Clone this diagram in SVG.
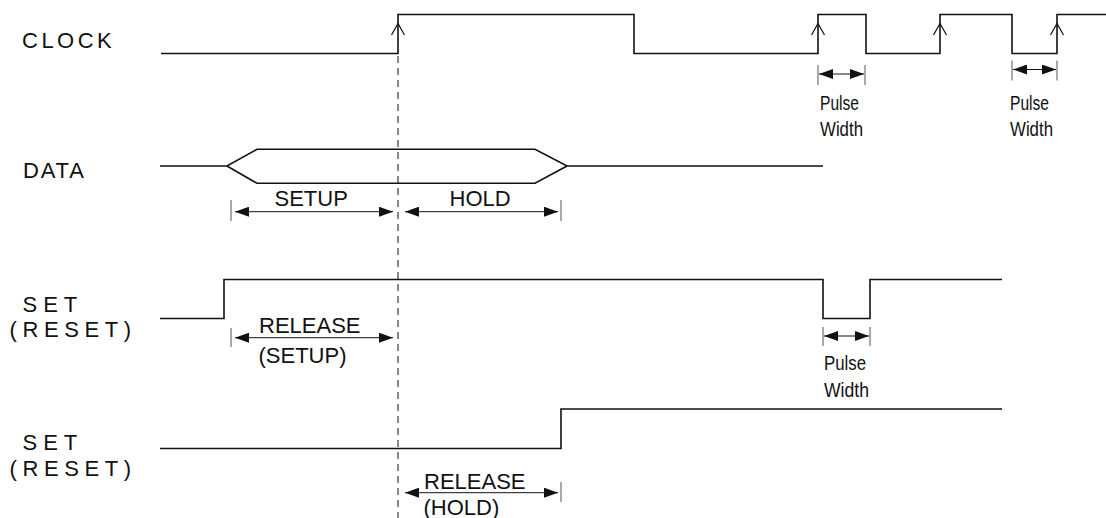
<svg xmlns="http://www.w3.org/2000/svg" width="1106" height="518" viewBox="0 0 1106 518">
<style>
  .lbl { font-family: "Liberation Sans", Arial, sans-serif; font-size: 22px; fill: #111; }
  .sig { fill: none; stroke: #111; stroke-width: 1.6; }
  .edge { fill: none; stroke: #111; stroke-width: 1.2; }
  .tick { stroke: #555; stroke-width: 1; }
  .dim { stroke: #111; stroke-width: 1; marker-start: url(#ah); marker-end: url(#ah); }
  .pw { font-family: "Liberation Sans", Arial, sans-serif; font-size: 21px; fill: #111; }
  .dash { stroke: #111; stroke-width: 1; stroke-dasharray: 7 5; fill: none; }
</style>
<defs>
  <marker id="ah" markerUnits="userSpaceOnUse" markerWidth="14" markerHeight="10" refX="14" refY="5" orient="auto-start-reverse">
    <path d="M0,0 L14,5 L0,10 z" fill="#111"/>
  </marker>
</defs>
<rect width="1106" height="518" fill="#fff"/>

<g id="clock">
  <text class="lbl" x="22" y="47.5" letter-spacing="3.5">CLOCK</text>
  <path class="sig" d="M161,53.5 H398 V14.5 H634 V53.5 H818 V14.5 H866 V53.5 H940 V14.5 H1012 V53.5 H1057 V14.5 H1106"/>
  <path class="edge" d="M391.5,35 L398,23.5 L404.5,35 M811.5,35 L818,23.5 L824.5,35 M933.5,35 L940,23.5 L946.5,35 M1050.5,35 L1057,23.5 L1063.5,35"/>
</g>

<g id="data">
  <text class="lbl" x="23" y="178.3" letter-spacing="1.8">DATA</text>
  <path class="sig" d="M160,166 H227 L257,149.3 H535 L567,166 H823 M227,166 L257,183.3 H535 L567,166"/>
</g>

<g id="set1">
  <text class="lbl" x="22.5" y="311.7" letter-spacing="6">SET</text>
  <text class="lbl" x="9.5" y="337.3" letter-spacing="5.6">(RESET)</text>
  <path class="sig" d="M160,318.5 H224 V279.5 H823 V318.5 H870 V279.5 H1002"/>
</g>

<g id="set2">
  <text class="lbl" x="22.5" y="449.5" letter-spacing="6">SET</text>
  <text class="lbl" x="9.5" y="475.5" letter-spacing="5.6">(RESET)</text>
  <path class="sig" d="M160,448.5 H561 V409 H1002"/>
</g>

<g id="clock-edge-ref">
  <path class="dash" d="M398,56 V518"/>
</g>

<g id="connectors">
  <!-- SETUP -->
  <line class="tick" x1="231" y1="200" x2="231" y2="221"/>
  <line class="dim" x1="235" y1="211.7" x2="393" y2="211.7"/>
  <text class="lbl" x="274.5" y="206">SETUP</text>
  <!-- HOLD -->
  <line class="tick" x1="561" y1="200" x2="561" y2="221"/>
  <line class="dim" x1="405" y1="211.7" x2="558" y2="211.7"/>
  <text class="lbl" x="449.5" y="206">HOLD</text>
  <!-- Pulse width 1 -->
  <line class="tick" x1="818" y1="65" x2="818" y2="85"/>
  <line class="tick" x1="865" y1="65" x2="865" y2="85"/>
  <line class="dim" x1="819" y1="74" x2="864" y2="74"/>
  <text class="pw" x="820" y="110" textLength="39" lengthAdjust="spacingAndGlyphs">Pulse</text>
  <text class="pw" x="820" y="136" textLength="43" lengthAdjust="spacingAndGlyphs">Width</text>
  <!-- Pulse width 2 -->
  <line class="tick" x1="1012" y1="60.5" x2="1012" y2="80.5"/>
  <line class="tick" x1="1057" y1="60.5" x2="1057" y2="80.5"/>
  <line class="dim" x1="1013" y1="69.5" x2="1056" y2="69.5"/>
  <text class="pw" x="1010" y="110" textLength="39" lengthAdjust="spacingAndGlyphs">Pulse</text>
  <text class="pw" x="1010" y="136" textLength="43" lengthAdjust="spacingAndGlyphs">Width</text>
  <!-- Release setup -->
  <line class="tick" x1="231" y1="328" x2="231" y2="347"/>
  <line class="dim" x1="235" y1="337.7" x2="393" y2="337.7"/>
  <text class="lbl" x="259" y="333.3">RELEASE</text>
  <text class="lbl" x="258.5" y="362.8">(SETUP)</text>
  <!-- Pulse width 3 -->
  <line class="tick" x1="823" y1="327" x2="823" y2="346"/>
  <line class="tick" x1="870" y1="327" x2="870" y2="346"/>
  <line class="dim" x1="824" y1="336" x2="869" y2="336"/>
  <text class="pw" x="824" y="370" textLength="42" lengthAdjust="spacingAndGlyphs">Pulse</text>
  <text class="pw" x="824" y="397" textLength="45" lengthAdjust="spacingAndGlyphs">Width</text>
  <!-- Release hold -->
  <line class="tick" x1="561" y1="482" x2="561" y2="502"/>
  <line class="dim" x1="405" y1="492.7" x2="558" y2="492.7"/>
  <text class="lbl" x="424" y="489.3">RELEASE</text>
  <text class="lbl" x="423.5" y="515">(HOLD)</text>
</g>
</svg>
